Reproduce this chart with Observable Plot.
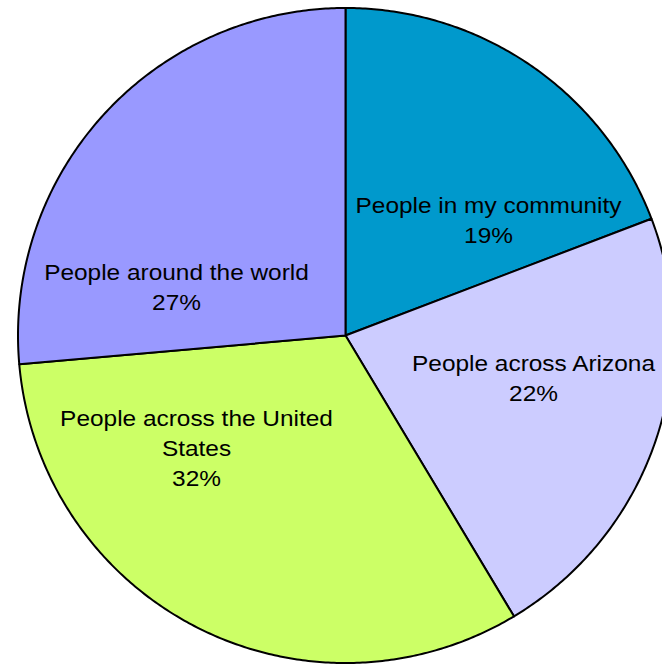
<!DOCTYPE html>
<html>
<head>
<meta charset="utf-8">
<script src="https://cdn.jsdelivr.net/npm/d3@7"></script>
<script src="https://cdn.jsdelivr.net/npm/@observablehq/plot@0.6"></script>
<style>
  html, body { margin: 0; padding: 0; background: #fff; overflow: hidden; }
</style>
</head>
<body>
<div id="chart"></div>
<script>
// Data
const categories = ["People in my community", "People across Arizona", "People across the United States", "People around the world"];
// slice shares as drawn in the picture (angles measured)
const sliceShares = [19.2, 22.2, 32.2, 26.4];
// percentages as printed on the labels
const percentLabels = ["19%", "22%", "32%", "27%"];
const labelLines = ["People in my community", "People across Arizona", "People across the United\nStates", "People around the world"];
const colors = ["#0099CC", "#CCCCFF", "#CCFF66", "#9999FF"];
// label anchors (layout: offset from pie centre in pixels, y down)
const labelAnchor = [[143, -117], [188, 41], [-149, 111], [-169, -50]];

const W = 662, H = 664;
const cx = 345, cy = 335, R = 327.5;

const pie = d3.pie().sort(null).value(d => d)(sliceShares);

const slicePoints = [];
pie.forEach((p, i) => {
  const a0 = p.startAngle, a1 = p.endAngle;
  const steps = Math.max(2, Math.ceil((a1 - a0) / (Math.PI / 360)));
  slicePoints.push({k: i, x: 0, y: 0, c: colors[i]});
  for (let s = 0; s <= steps; s++) {
    const a = a0 + (a1 - a0) * s / steps;
    slicePoints.push({k: i, x: R * Math.sin(a), y: -R * Math.cos(a), c: colors[i]});
  }
  slicePoints.push({k: i, x: 0, y: 0, c: colors[i]});
});

const labels = categories.map((c, i) => ({
  text: labelLines[i] + "\n" + percentLabels[i], x: labelAnchor[i][0], y: labelAnchor[i][1]
}));

const chart = Plot.plot({
  width: W, height: H,
  margin: 0,
  x: {domain: [-cx, W - cx], range: [0, W], axis: null},
  y: {domain: [-cy, H - cy], range: [0, H], axis: null},
  color: {type: "identity"},
  style: {fontFamily: "'Liberation Sans', Arial, sans-serif", background: "#fff", overflow: "hidden"},
  marks: [
    Plot.line(slicePoints, {x: "x", y: "y", z: "k", fill: "c", stroke: "#000", strokeWidth: 2, strokeLinejoin: "round", curve: "linear"}),
    Plot.text(labels, {x: "x", y: "y", text: "text", fontSize: 22, fill: "#000", lineHeight: 30 / 22, textAnchor: "middle", lineAnchor: "middle"})
  ]
});
// slightly wider glyphs, as in the reference rendering
chart.querySelectorAll("text").forEach(t => {
  const tr = t.getAttribute("transform") || "";
  t.setAttribute("transform", tr + " scale(1.11,1)");
});
document.getElementById("chart").appendChild(chart);
</script>
</body>
</html>
